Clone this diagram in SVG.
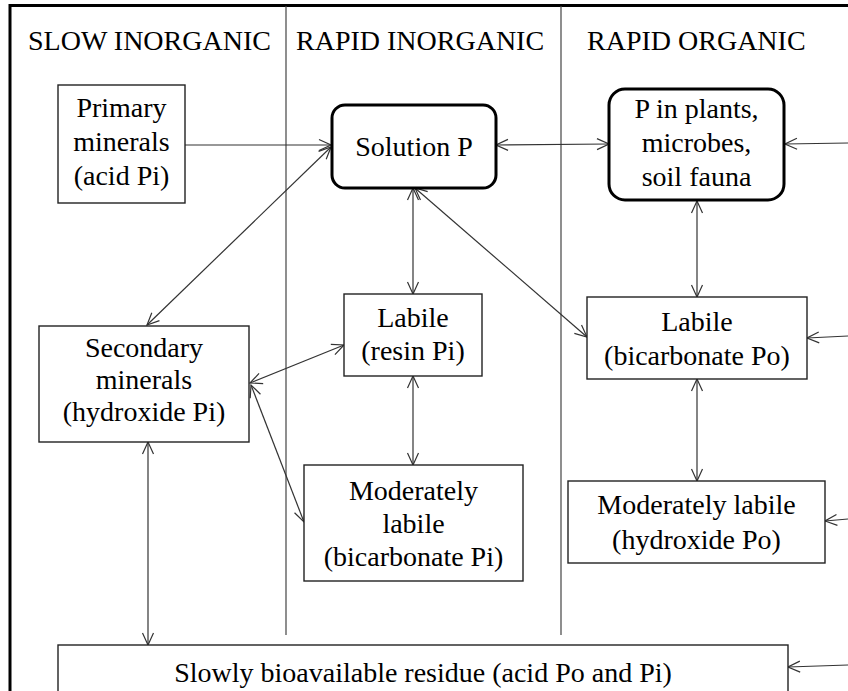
<svg xmlns="http://www.w3.org/2000/svg" width="848" height="691" viewBox="0 0 848 691">
<style>
text{font-family:"Liberation Serif","Times New Roman",serif;font-size:28px;fill:#000}
.c{text-anchor:middle}
.box{fill:#fff;stroke:#222;stroke-width:1.4}
.rbox{fill:#fff;stroke:#000;stroke-width:3}
.div{stroke:#444;stroke-width:1.2}
.ln{stroke:#333;stroke-width:1.2;fill:none}
</style>
<defs>
<marker id="ah" viewBox="0 0 14 14" refX="13" refY="7" markerWidth="14" markerHeight="14" markerUnits="userSpaceOnUse" orient="auto-start-reverse">
<path d="M1,1.5 L13,7 L1,12.5" fill="none" stroke="#333" stroke-width="1.2"/>
</marker>
</defs>
<rect width="848" height="691" fill="#fff"/>
<g id="frame">
<line x1="10" y1="5.5" x2="848" y2="5.5" stroke="#000" stroke-width="3"/>
<line x1="10" y1="4" x2="10" y2="691" stroke="#000" stroke-width="3"/>
<line class="div" x1="286" y1="6" x2="286" y2="635"/>
<line class="div" x1="561" y1="6" x2="561" y2="635"/>
</g>
<g id="headers">
<text x="28" y="50">SLOW INORGANIC</text>
<text x="296" y="50">RAPID INORGANIC</text>
<text x="587" y="50">RAPID ORGANIC</text>
</g>
<g id="connectors">
<line class="ln" x1="185" y1="145" x2="331" y2="145" marker-end="url(#ah)"/>
<line class="ln" x1="331" y1="147" x2="147" y2="325" marker-start="url(#ah)" marker-end="url(#ah)"/>
<line class="ln" x1="496" y1="145" x2="609" y2="144" marker-start="url(#ah)" marker-end="url(#ah)"/>
<line class="ln" x1="848" y1="143" x2="785" y2="144" marker-end="url(#ah)"/>
<line class="ln" x1="413" y1="188" x2="413" y2="294" marker-start="url(#ah)" marker-end="url(#ah)"/>
<line class="ln" x1="413" y1="376" x2="413" y2="465" marker-start="url(#ah)" marker-end="url(#ah)"/>
<line class="ln" x1="415" y1="188" x2="587" y2="337" marker-start="url(#ah)" marker-end="url(#ah)"/>
<line class="ln" x1="344" y1="345" x2="250" y2="383" marker-start="url(#ah)" marker-end="url(#ah)"/>
<line class="ln" x1="251" y1="385" x2="304" y2="522" marker-start="url(#ah)" marker-end="url(#ah)"/>
<line class="ln" x1="148" y1="442" x2="148" y2="645" marker-start="url(#ah)" marker-end="url(#ah)"/>
<line class="ln" x1="697" y1="201" x2="697" y2="297" marker-start="url(#ah)" marker-end="url(#ah)"/>
<line class="ln" x1="697" y1="379" x2="697" y2="481" marker-start="url(#ah)" marker-end="url(#ah)"/>
<line class="ln" x1="848" y1="336" x2="807" y2="338" marker-end="url(#ah)"/>
<line class="ln" x1="848" y1="519" x2="825" y2="521" marker-end="url(#ah)"/>
<line class="ln" x1="848" y1="665" x2="788" y2="667" marker-end="url(#ah)"/>
</g>
<g id="primary">
<rect class="box" x="58" y="85" width="127" height="118"/>
<text class="c" x="121.5" y="117">Primary</text>
<text class="c" x="121.5" y="151">minerals</text>
<text class="c" x="121.5" y="185">(acid Pi)</text>
</g>
<g id="solution">
<rect class="rbox" x="332" y="105" width="164" height="83" rx="13"/>
<text class="c" x="414" y="156">Solution P</text>
</g>
<g id="plants">
<rect class="rbox" x="609" y="89" width="175" height="111" rx="16"/>
<text class="c" x="696.5" y="118">P in plants,</text>
<text class="c" x="696.5" y="152">microbes,</text>
<text class="c" x="696.5" y="186">soil fauna</text>
</g>
<g id="secondary">
<rect class="box" x="39" y="326" width="210" height="116"/>
<text class="c" x="144" y="357">Secondary</text>
<text class="c" x="144" y="389">minerals</text>
<text class="c" x="144" y="421">(hydroxide Pi)</text>
</g>
<g id="labile-pi">
<rect class="box" x="344" y="294" width="138" height="82"/>
<text class="c" x="413" y="327">Labile</text>
<text class="c" x="413" y="360">(resin Pi)</text>
</g>
<g id="labile-po">
<rect class="box" x="587" y="297" width="220" height="82"/>
<text class="c" x="697" y="331">Labile</text>
<text class="c" x="697" y="365">(bicarbonate Po)</text>
</g>
<g id="modlabile-pi">
<rect class="box" x="304" y="465" width="219" height="116"/>
<text class="c" x="413.5" y="500">Moderately</text>
<text class="c" x="413.5" y="533">labile</text>
<text class="c" x="413.5" y="566">(bicarbonate Pi)</text>
</g>
<g id="modlabile-po">
<rect class="box" x="568" y="481" width="257" height="82"/>
<text class="c" x="696.5" y="514">Moderately labile</text>
<text class="c" x="696.5" y="549">(hydroxide Po)</text>
</g>
<g id="residue">
<rect class="box" x="58" y="645" width="730" height="60"/>
<text class="c" x="423" y="682">Slowly bioavailable residue (acid Po and Pi)</text>
</g>
</svg>
